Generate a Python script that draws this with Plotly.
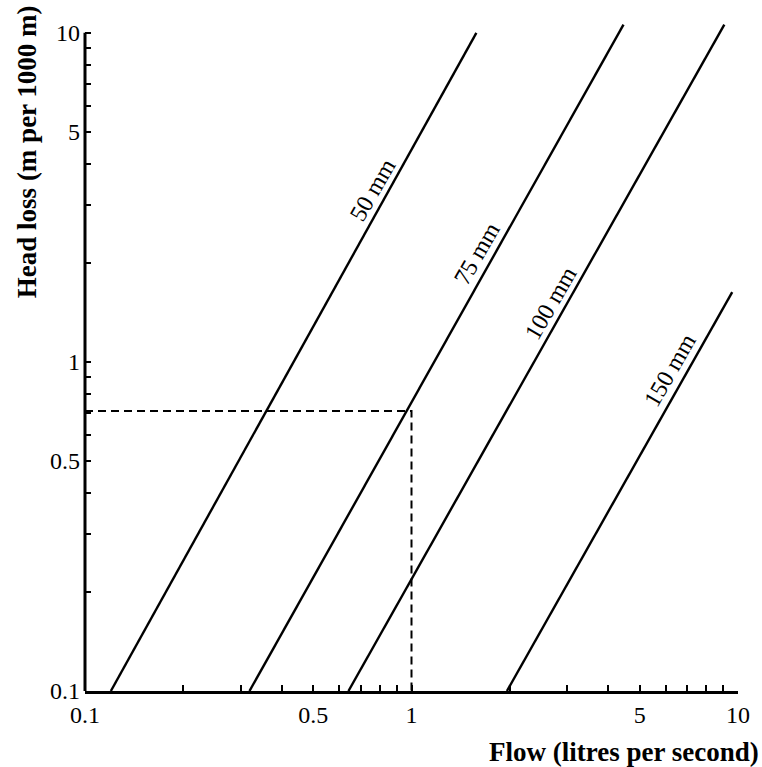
import numpy as np
import plotly.graph_objects as go

# pipe head-loss lines, end points (flow l/s, head loss m per 1000 m)
pipe_sizes = ["50 mm", "75 mm", "100 mm", "150 mm"]
flow_start = [0.120, 0.319, 0.641, 1.96]
flow_end = [1.58, 4.46, 9.08, 9.6]
loss_start = [0.1, 0.1, 0.1, 0.1]
loss_end = [10.0, 10.6, 10.6, 1.63]

# where the size labels sit along each line
label_flow = [0.76, 1.59, 2.67, 6.19]
label_loss = [3.33, 2.14, 1.51, 0.946]

# worked example: 1 l/s through the 75 mm pipe
example_flow = [0.1, 1, 1]
example_loss = [0.71, 0.71, 0.1]

tick_vals = [0.1, 0.2, 0.3, 0.4, 0.5, 0.6, 0.7, 0.8, 0.9, 1, 2, 3, 4, 5, 6, 7, 8, 9, 10]
tick_text = ["0.1", "", "", "", "0.5", "", "", "", "", "1", "", "", "", "5", "", "", "", "", "10"]

FONT = "Liberation Serif"

fig = go.Figure()
for i in range(len(pipe_sizes)):
    fig.add_trace(go.Scatter(x=[flow_start[i], flow_end[i]], y=[loss_start[i], loss_end[i]],
                             mode="lines", line=dict(color="black", width=2.4),
                             hoverinfo="skip", showlegend=False))
    fig.add_annotation(x=np.log10(label_flow[i]), y=np.log10(label_loss[i]),
                       text=pipe_sizes[i], textangle=-60, showarrow=False,
                       font=dict(family=FONT, size=24, color="black"))

fig.add_trace(go.Scatter(x=example_flow, y=example_loss, mode="lines",
                         line=dict(color="black", width=2, dash="8px,5px"),
                         hoverinfo="skip", showlegend=False))

fig.update_layout(
    width=762, height=767,
    margin=dict(l=85, r=15, t=23, b=76),
    plot_bgcolor="white", paper_bgcolor="white",
    font=dict(family=FONT, size=24, color="black"),
    xaxis=dict(type="log", range=[-1, 1], tickvals=tick_vals, ticktext=tick_text,
               ticks="inside", ticklen=6, tickwidth=1.5, tickcolor="black",
               showline=True, linewidth=3, linecolor="black", showgrid=False,
               zeroline=False, tickangle=0),
    yaxis=dict(type="log", range=[-1, 1.03], tickvals=tick_vals, ticktext=tick_text,
               ticks="inside", ticklen=6, tickwidth=1.5, tickcolor="black",
               ticklabelstandoff=4,
               showline=False, showgrid=False, zeroline=False),
    shapes=[dict(type="line", xref="paper", yref="paper", x0=0, x1=0, y0=0, y1=2 / 2.03,
                 line=dict(color="black", width=3))],
    annotations=list(fig.layout.annotations) + [
        dict(text="<b>Flow (litres per second)</b>", xref="paper", yref="paper", x=1.035, y=-0.066,
             xanchor="right", yanchor="top", showarrow=False,
             font=dict(family=FONT, size=27)),
        dict(text="<b>Head loss (m per 1000 m)</b>", xref="paper", yref="paper", x=-0.089, y=0.808,
             xanchor="center", yanchor="middle", textangle=-90, showarrow=False,
             font=dict(family=FONT, size=27)),
    ],
)

# drop the browser's default page margin so the figure fills the window
fig.write_html("out.html", config={"displayModeBar": False},
               post_script="document.body.style.margin='0';")
